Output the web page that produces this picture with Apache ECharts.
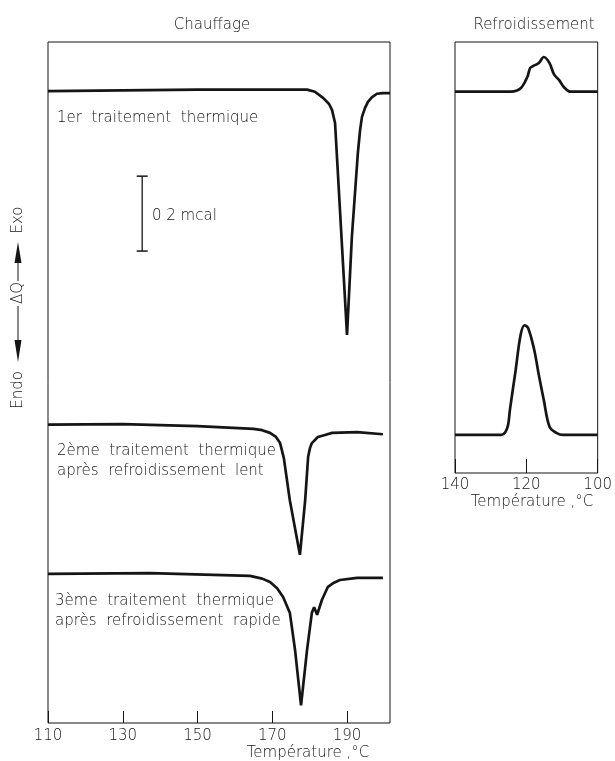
<!DOCTYPE html>
<html>
<head>
<meta charset="utf-8">
<title>Chauffage / Refroidissement</title>
<script src="https://cdn.jsdelivr.net/npm/echarts@6/dist/echarts.min.js"></script>
<style>
  html, body { margin: 0; padding: 0; background: #fff; }
  #chart { width: 615px; height: 761px; }
</style>
</head>
<body>
<div id="chart"></div>
<script>
  // chauffage : [température °C, signal ΔQ en unités arbitraires]
  const heat1 = [
    [110, 92.8], [150, 93.0], [179.3, 93.0], [181.4, 92.7], [183.6, 91.8], [185.2, 90.9],
    [186.0, 90.0], [186.8, 88.1], [190.0, 57.0], [191.3, 71.4], [192.9, 83.7], [193.5, 87.1],
    [194.0, 89.0], [194.8, 90.3], [195.6, 91.2], [196.7, 91.9], [198.0, 92.4], [199.6, 92.5], [201.5, 92.5]
  ]
  const heat2 = [
    [110, 43.8], [130, 43.9], [150, 43.6], [165, 43.2], [167.3, 43.0], [169.4, 42.6], [171.0, 42.0],
    [172.1, 41.1], [173.1, 38.9], [174.7, 32.7], [177.4, 24.7], [178.8, 32.7], [179.6, 39.1],
    [180.1, 40.4], [180.6, 41.1], [182.2, 42.0], [184.1, 42.3], [186.0, 42.6], [192.7, 42.7], [199.6, 42.4]
  ]
  const heat3 = [
    [110, 21.9], [137.3, 22.0], [164, 21.6], [167.3, 21.2], [169.4, 20.7], [171.3, 19.8], [172.9, 18.5],
    [174.7, 16.2], [176.1, 10.7], [177.7, 2.6], [179.3, 10.7], [180.6, 16.2], [181.2, 17.0],
    [182.0, 15.9], [183.3, 18.1], [184.9, 20.0], [186.5, 20.6], [188.1, 21.0], [192.7, 21.3], [199.6, 21.3]
  ]
  // refroidissement
  const cool1 = [
    [140, 92.7], [124.3, 92.7], [121.6, 93.2], [119.7, 94.9], [118.9, 96.2], [117.6, 96.6],
    [116.5, 96.9], [115.1, 97.8], [113.5, 96.9], [112.2, 95.2], [110.8, 94.4], [109.5, 93.4],
    [107.6, 92.7], [100, 92.7]
  ]
  const cool2 = [
    [140, 42.3], [127.0, 42.3], [125.9, 42.7], [125.1, 43.8], [124.6, 46.0], [123.0, 51.8],
    [121.6, 57.0], [120.5, 58.4], [119.5, 58.0], [117.8, 54.8], [116.5, 51.1], [115.1, 47.4],
    [113.5, 43.5], [111.6, 42.6], [109.7, 42.3], [100, 42.3]
  ]
  // barre d'échelle 0,2 mcal
  const scaleBar = [[135.2, 69.3], [135.2, 80.3]]

  const font = "'DejaVu Sans', sans-serif"
  const ink = '#151515'

  let myChart = echarts.init(document.getElementById('chart'))

  let curve = function (name, data, axis, smooth) {
    return {
      name: name,
      type: 'line',
      xAxisIndex: axis,
      yAxisIndex: axis,
      data: data,
      showSymbol: false,
      smooth: smooth,
      lineStyle: { color: ink, width: 2.7 },
      silent: true
    }
  }

  let txt = function (x, y, text, extra) {
    return {
      type: 'text',
      x: x,
      y: y,
      silent: true,
      rotation: extra && extra.rotation || 0,
      style: Object.assign({
        text: text,
        fill: ink,
        font: '200 15px ' + font,
        lineHeight: 20,
        textVerticalAlign: 'middle'
      }, extra && extra.style)
    }
  }

  let option = {
    animation: false,
    backgroundColor: '#fff',
    title: [
      { text: 'Chauffage', left: 207, top: 13, textAlign: 'center',
        textStyle: { fontFamily: font, fontWeight: 200, fontSize: 15, color: ink } },
      { text: 'Refroidissement', left: 529, top: 13, textAlign: 'center',
        textStyle: { fontFamily: font, fontWeight: 200, fontSize: 15, color: ink } }
    ],
    grid: [
      { left: 48, top: 42, width: 342, height: 681, show: true, borderColor: ink, borderWidth: 1 },
      { left: 455, top: 42, width: 148, height: 431, show: true, borderColor: ink, borderWidth: 1 }
    ],
    xAxis: [{
      gridIndex: 0,
      type: 'value',
      min: 110,
      max: 201.5,
      interval: 20,
      axisLine: { show: false },
      axisTick: { inside: true, length: 12, lineStyle: { color: ink, width: 1 } },
      axisLabel: { showMaxLabel: false, margin: 6, color: ink, fontFamily: font, fontWeight: 200, fontSize: 15 },
      splitLine: { show: false }
    }, {
      gridIndex: 1,
      type: 'value',
      inverse: true,
      min: 100,
      max: 140,
      interval: 20,
      axisLine: { show: false },
      axisTick: { inside: true, length: 14, lineStyle: { color: ink, width: 1 } },
      axisLabel: { margin: 5, color: ink, fontFamily: font, fontWeight: 200, fontSize: 15 },
      splitLine: { show: false }
    }],
    yAxis: [
      { gridIndex: 0, type: 'value', min: 0, max: 100, show: false },
      { gridIndex: 1, type: 'value', min: 36.7, max: 100, show: false }
    ],
    series: [
      curve('1er traitement', heat1, 0, false),
      curve('2ème traitement', heat2, 0, false),
      curve('3ème traitement', heat3, 0, false),
      curve('refroidissement 1', cool1, 1, 0.35),
      curve('refroidissement 2', cool2, 1, 0.35),
      {
        name: '0,2 mcal',
        type: 'line',
        data: scaleBar,
        symbol: 'rect',
        symbolSize: [11, 1.5],
        showSymbol: true,
        itemStyle: { color: ink, borderWidth: 0 },
        lineStyle: { color: ink, width: 1.3 },
        silent: true
      }
    ],
    graphic: [
      txt(57, 118, '1er  traitement  thermique'),
      txt(152, 216, '0 2 mcal'),
      txt(57, 461, '2ème  traitement  thermique\naprès  refroidissement  lent'),
      txt(55, 611, '3ème  traitement  thermique\naprès  refroidissement  rapide'),
      txt(308, 753, 'Température ,°C', { style: { textAlign: 'center' } }),
      txt(532, 502, 'Température ,°C', { style: { textAlign: 'center' } }),
      // ΔQ, Exo en haut, Endo en bas
      txt(18, 220, 'Exo', { rotation: Math.PI / 2, style: { textAlign: 'center' } }),
      { type: 'polygon', silent: true, shape: { points: [[14.5, 263], [21.5, 263], [18, 242]] }, style: { fill: ink } },
      { type: 'line', silent: true, shape: { x1: 18, y1: 263, x2: 18, y2: 281 }, style: { stroke: ink, lineWidth: 1 } },
      txt(18, 293, 'ΔQ', { rotation: Math.PI / 2, style: { textAlign: 'center' } }),
      { type: 'line', silent: true, shape: { x1: 18, y1: 306, x2: 18, y2: 340 }, style: { stroke: ink, lineWidth: 1 } },
      { type: 'polygon', silent: true, shape: { points: [[14.5, 340], [21.5, 340], [18, 362]] }, style: { fill: ink } },
      txt(18, 390, 'Endo', { rotation: Math.PI / 2, style: { textAlign: 'center' } })
    ]
  }
  myChart.setOption(option)
</script>
</body>
</html>
